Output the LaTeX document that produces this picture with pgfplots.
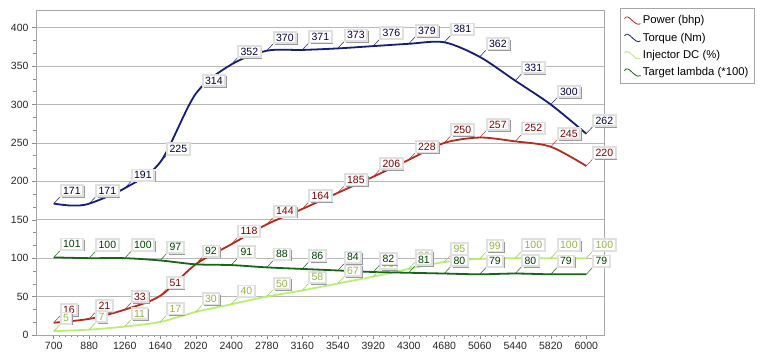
\documentclass[border=0pt]{standalone}
\usepackage{pgfplots}
\pgfplotsset{compat=1.18}
\usepackage{fontspec}
\setmainfont{Liberation Sans}
\usetikzlibrary{shadows}

\definecolor{pwr}{RGB}{184,40,30}
\definecolor{trq}{RGB}{20,30,120}
\definecolor{inj}{RGB}{184,240,112}
\definecolor{lam}{RGB}{24,100,24}
\definecolor{pwrT}{RGB}{128,0,0}
\definecolor{trqT}{RGB}{0,0,64}
\definecolor{injT}{RGB}{150,180,70}
\definecolor{lamT}{RGB}{0,64,0}

\pgfplotsset{
  lbl/.style 2 args={draw=none, mark=none, forget plot, nodes near coords,
    every node near coord/.style={anchor=south west, xshift=6bp, yshift=6.5bp,
      fill=white, draw=black!12, inner xsep=2.5bp, inner ysep=2bp, text=#1,
      font=\fontsize{10.5bp}{12bp}\selectfont,
      drop shadow={shadow xshift=1.5bp, shadow yshift=-1.5bp, fill=black!40, opacity=1},
      append after command={\pgfextra{\draw[#2, line width=0.5bp] (\tikzlastnode.south west) -- ++(-6bp,-6.5bp);}}}}
}

\pgfplotstableread{
x y
0 16
1 21
2 33
3 51
4 92
5 118
6 144
7 164
8 185
9 206
10 228
11 250
12 257
13 252
14 245
15 220
}\power
\pgfplotstableread{
x y
0 171
1 171
2 191
3 225
4 314
5 352
6 370
7 371
8 373
9 376
10 379
11 381
12 362
13 331
14 300
15 262
}\torque
\pgfplotstableread{
x y
0 5
1 7
2 11
3 17
4 30
5 40
6 50
7 58
8 67
9 76
10 86
11 95
12 99
13 100
14 100
15 100
}\injector
\pgfplotstableread{
x y
0 101
1 100
2 100
3 97
4 92
5 91
6 88
7 86
8 84
9 82
10 81
11 80
12 79
13 80
14 79
15 79
}\lambda

\begin{document}
\begin{tikzpicture}
\useasboundingbox (-36bp,-29bp) rectangle (732bp,335bp);
\begin{axis}[
  scale only axis, width=568bp, height=325bp,
  at={(0,0)}, anchor=south west,
  xmin=-0.5, xmax=15.5, ymin=0, ymax=423,
  xtick={0,...,15},
  xticklabels={700,880,1260,1640,2020,2400,2780,3160,3540,3920,4300,4680,5060,5440,5820,6000},
  minor x tick num=5,
  ytick={0,50,...,400}, minor y tick num=2,
  ymajorgrids, major grid style={draw=black!28, line width=0.6bp},
  axis line style={draw=black!35, line width=0.6bp},
  tick style={draw=black!45, line width=0.5bp},
  tick align=outside, tick pos=left,
  major tick length=4bp, minor tick length=2.5bp,
  ticklabel style={font=\fontsize{10.5bp}{12bp}\selectfont, text=black!85},
  /pgf/number format/assume math mode=true,
  legend style={at={(1.028,1.006)}, anchor=north west, draw=black!35, fill=white,
    font=\fontsize{11.3bp}{12bp}\selectfont, inner xsep=4bp, inner ysep=3bp,
    row sep=0bp, nodes={text height=9bp, text depth=2.8bp}, cells={anchor=west}},
  legend image code/.code={\draw[#1, line width=0.8bp] (0bp,2bp) .. controls (4bp,9bp) and (10bp,-7bp) .. (16bp,-3bp);},
  every axis plot/.append style={line width=1.8bp},
]
\addplot[pwr, smooth] coordinates {(0,16)(1,21)(2,33)(3,51)(4,92)(5,118)(6,144)(7,164)(8,185)(9,206)(10,228)(11,250)(12,257)(13,252)(14,245)(15,220)};
\addlegendentry{Power (bhp)}
\addplot[trq, smooth] coordinates {(0,171)(0.5,168.5)(1,171)(2,191)(3,225)(4,314)(5,352)(6,370)(7,371)(8,373)(9,376)(10,379)(11,381)(12,362)(13,331)(14,300)(15,262)};
\addlegendentry{Torque (Nm)}
\addplot[inj, smooth] table[x=x,y=y] {\injector};
\addlegendentry{Injector DC (\%)}
\addplot[lam, smooth] table[x=x,y=y] {\lambda};
\addlegendentry{Target lambda (*100)}

\addplot[lbl={pwrT}{pwr}] table[x=x,y=y] {\power};
\addplot[lbl={trqT}{trq}] table[x=x,y=y] {\torque};
\addplot[lbl={injT}{inj!80!black}] table[x=x,y=y] {\injector};
\addplot[lbl={lamT}{lam}] table[x=x,y=y] {\lambda};
\end{axis}
\end{tikzpicture}
\end{document}
